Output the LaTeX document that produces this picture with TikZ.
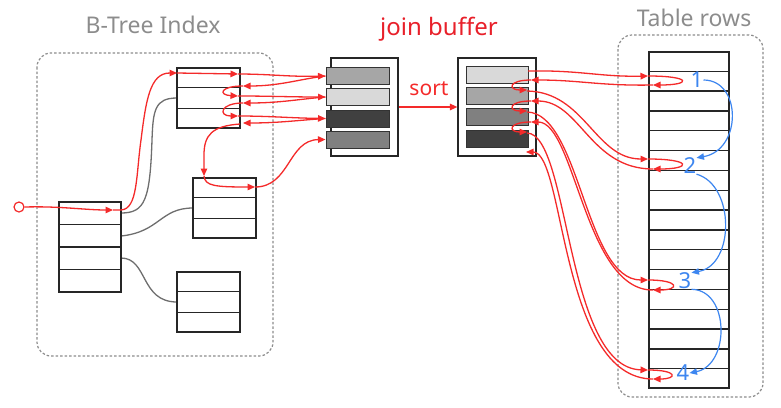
\documentclass[tikz,border=0pt]{standalone}
\usepackage{fontspec}
\setmainfont{Noto Sans}
\usetikzlibrary{arrows.meta,calc}
\definecolor{rd}{HTML}{F42A2A}
\definecolor{jb}{HTML}{E8202A}
\definecolor{bl}{HTML}{3D86F0}
\definecolor{gy}{HTML}{8C8C8C}
\definecolor{ln}{HTML}{6E6E6E}
\newcommand\mkrows[2]{%
  \pgfmathtruncatemacro\myNrm{#2-1}%
  \foreach \k in {1,...,\myNrm}{\draw[boxline] ($(#1.north west)!\k/#2!(#1.south west)$) -- ($(#1.north east)!\k/#2!(#1.south east)$);}}
\tikzset{
 boxline/.style={draw=black!85, line width=1.2pt},
 recbox/.style={boxline, rectangle, inner sep=0pt, fill=white},
 bar/.style={draw=black!80, line width=1pt, rectangle, inner sep=0pt, minimum width=63pt, minimum height=17pt},
 redline/.style={draw=rd, line width=1.3pt},
 redarr/.style={redline, -{Triangle[length=7.5pt,width=6.5pt]}},
 bluearr/.style={draw=bl, line width=1.2pt, -{Triangle[length=7.5pt,width=6.5pt]}},
 grayline/.style={draw=ln, line width=1.3pt},
 region/.style={draw=gy, line width=1.2pt, dash pattern=on 2.5pt off 2pt, rounded corners=14pt},
 title/.style={text=gy, inner sep=0pt, font=\fontsize{23}{26}\selectfont},
 num/.style={text=bl, inner sep=0pt, font=\fontsize{22}{24}\selectfont},
}
\begin{document}
\begin{tikzpicture}[x=1pt,y=-1pt]
\useasboundingbox (0,0) rectangle (781,407);
% regions
\draw[region] (37,53) rectangle (273,356);
\draw[region] (618,35) rectangle (763,397);
\node[title] (tB) at (153,25) {B-Tree Index};
\node[title] (tT) at (694,18) {Table rows};
\node[text=jb, inner sep=0pt, font=\fontsize{24}{28}\selectfont] (tJ) at (439,29) {join buffer};
\node[text=rd, inner sep=0pt, font=\fontsize{21}{24}\selectfont] (tS) at (429,89) {sort};
% gray tree links
\draw[grayline] (177,98) .. controls (155,98) and (153,110) .. (152,140) .. controls (150,200) and (145,213) .. (121,213);
\draw[grayline] (121,236) .. controls (160,232) and (160,208) .. (193,208);
\draw[grayline] (121,258) .. controls (148,258) and (140,302) .. (177,302);
% index nodes
\node[recbox, minimum width=63pt, minimum height=60pt] (T) at (208.5,98) {};
\mkrows{T}{3}
\node[recbox, minimum width=63pt, minimum height=60pt] (M) at (224.5,208) {};
\mkrows{M}{3}
\node[recbox, minimum width=63pt, minimum height=60pt] (B) at (208.5,302) {};
\mkrows{B}{3}
\node[recbox, minimum width=62pt, minimum height=90pt] (R) at (90,247) {};
\mkrows{R}{4}
% join buffers
\node[recbox, minimum width=67pt, minimum height=98pt] (LB) at (364.5,107) {};
\node[bar, fill=black!35] (lb1) at (357.5,76) {};
\node[bar, fill=black!15] (lb2) at (357.5,97) {};
\node[bar, fill=black!75] (lb3) at (357.5,118.5) {};
\node[bar, fill=black!50] (lb4) at (357.5,139.5) {};
\node[recbox, minimum width=78pt, minimum height=98pt] (RB) at (497,107) {};
\node[bar, minimum width=62pt, fill=black!15] (rb1) at (497,74.5) {};
\node[bar, minimum width=62pt, fill=black!35] (rb2) at (497,96) {};
\node[bar, minimum width=62pt, fill=black!50] (rb3) at (497,117) {};
\node[bar, minimum width=62pt, fill=black!75] (rb4) at (497,138.5) {};
\draw[redarr] (LB.east) -- (RB.west);
% table rows
\node[recbox, minimum width=80pt, minimum height=336pt] (TR) at (689,220) {};
\mkrows{TR}{17}
\node[num] (n1) at (697,80) {1};
\node[num] (n2) at (690,166) {2};
\node[num] (n3) at (685,281) {3};
\node[num] (n4) at (683,373) {4};
% start
\node[circle, draw=rd, line width=1.2pt, minimum size=10pt, inner sep=0pt, fill=white] (st) at (19,207) {};
% left red paths
\draw[redarr] (st.east) .. controls (60,206) and (85,210) .. (113,210);
\draw[redarr] (113,210) -- (121,210) .. controls (138,209) and (136,175) .. (141,140) .. controls (146,100) and (150,73) .. (177,73);
\draw[redarr] (177,73) -- (238,74);
\draw[redarr] (238,74) .. controls (270,74) and (290,77) .. (lb1.west);
\draw[redarr] (lb1.west) .. controls (300,79) and (280,86) .. (243,86);
\draw[redarr] (243,86) .. controls (220,86) and (218,95) .. (238,96);
\draw[redarr] (238,96) .. controls (270,96) and (290,97) .. (lb2.west);
\draw[redarr] (lb2.west) .. controls (300,99) and (280,103) .. (243,103);
\draw[redarr] (243,103) .. controls (220,103) and (218,116) .. (238,116);
\draw[redarr] (238,116) .. controls (270,116) and (290,118) .. (lb3.west);
\draw[redarr] (lb3.west) .. controls (300,120) and (280,123) .. (243,123);
\draw[redarr] (240,124) .. controls (212,126) and (204,135) .. (204,155) -- (204,176);
\draw[redarr] (204,176) .. controls (205,186) and (215,187) .. (255,187);
\draw[redarr] (255,187) .. controls (290,187) and (288,140) .. (lb4.west);
% right red paths
\draw[redarr] (528,71) .. controls (580,70) and (600,77) .. (648,76);
\draw[redarr] (648,76) .. controls (692,76) and (692,85) .. (653,85);
\draw[redarr] (653,85) .. controls (600,86) and (580,80) .. (531,80);
\draw[redarr] (531,80) .. controls (508,80) and (508,90) .. (527,90);
\draw[redarr] (527,91) .. controls (585,92) and (595,159) .. (648,159);
\draw[redarr] (648,159) .. controls (692,159) and (692,169) .. (653,169);
\draw[redarr] (653,169) .. controls (590,169) and (580,101) .. (531,101);
\draw[redarr] (531,101) .. controls (508,101) and (508,111) .. (527,111);
\draw[redarr] (527,112) .. controls (580,113) and (585,280) .. (648,280);
\draw[redarr] (648,280) .. controls (680,280) and (680,290) .. (653,290);
\draw[redarr] (653,290) .. controls (585,291) and (575,122) .. (531,122);
\draw[redarr] (531,122) .. controls (508,122) and (508,132) .. (527,132);
\draw[redarr] (527,133) .. controls (570,134) and (565,368) .. (648,370);
\draw[redarr] (648,370) .. controls (678,370) and (678,379) .. (653,379);
\draw[redarr] (653,379) .. controls (560,379) and (565,152) .. (526,152);
% blue order arrows
\draw[bluearr] (n1.east) .. controls (742,80) and (742,150) .. (n2.north east);
\draw[bluearr] (n2.south east) .. controls (735,185) and (735,265) .. (n3.north east);
\draw[bluearr] (n3.south east) .. controls (730,290) and (730,365) .. (n4.east);
\end{tikzpicture}
\end{document}
